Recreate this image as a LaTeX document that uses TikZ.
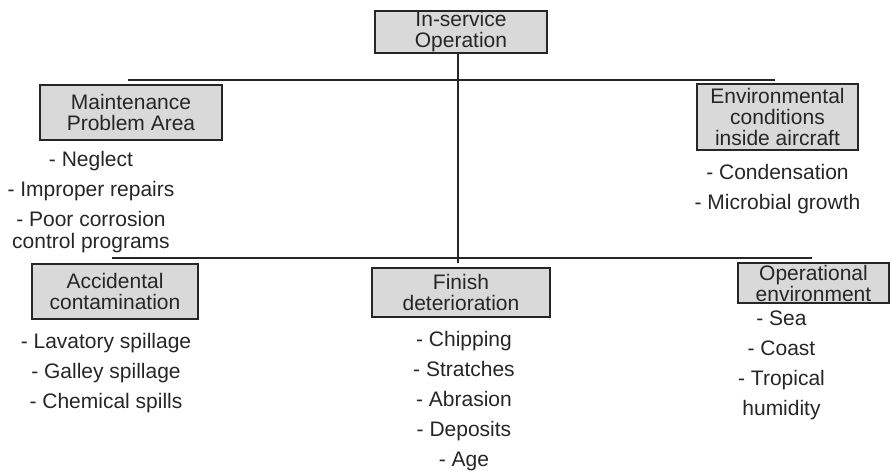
\documentclass[tikz,border=0pt]{standalone}
\usepackage{fontspec}
\setmainfont{Liberation Sans}
\usetikzlibrary{positioning}

\begin{document}
\begin{tikzpicture}[x=0.5pt, y=-0.5pt, line width=1pt,
  area/.style={draw=black!85, fill=black!15, align=center, inner sep=0pt,
    text=black!85, font=\fontsize{10.5}{10.5}\selectfont},
  items/.style={align=center, inner sep=0pt, text=black!85,
    font=\fontsize{10.5}{11}\selectfont}]
  \useasboundingbox (0,0) rectangle (891,471);

  \begin{scope}[every node/.style={area}]
    \node [minimum width=86pt, minimum height=21pt] (inservice) at (461,32) {In-service\\Operation};
    \node [minimum width=91pt, minimum height=27.5pt] (maint) at (131,112.5) {Maintenance\\Problem Area};
    \node [minimum width=80.5pt, minimum height=33pt] (envcond) at (777.5,117) {Environmental\\conditions\\inside aircraft};
    \node [minimum width=83pt, minimum height=27.5pt] (accident) at (115,291.5) {Accidental\\contamination};
    \node [minimum width=89pt, minimum height=24.5pt] (finish) at (461,292.5) {Finish\\deterioration};
    \node [minimum width=75.5pt, minimum height=20pt] (operenv) at (813.5,283) {Operational\\environment};
  \end{scope}

  \begin{scope}[every node/.style={items}]
    \node [below=4.5pt of maint, xshift=-20pt] (maintlist)
      {- Neglect\\[4pt] - Improper repairs\\[4pt] - Poor corrosion\\control programs};
    \node [below=6pt of envcond] (envlist)
      {- Condensation\\[4pt] - Microbial growth};
    \node [below=6pt of accident, xshift=-4.5pt] (accidentlist)
      {- Lavatory spillage\\[4pt] - Galley spillage\\[4pt] - Chemical spills};
    \node [below=6pt of finish, xshift=1.5pt] (finishlist)
      {- Chipping\\[4pt] - Stratches\\[4pt] - Abrasion\\[4pt] - Deposits\\[4pt] - Age};
    \node [below=3pt of operenv, xshift=-16pt] (operlist)
      {- Sea\\[4pt] - Coast\\[4pt] - Tropical\\[4pt] humidity};
  \end{scope}

  % buses
  \coordinate (upleft) at (128,80);
  \coordinate (upright) at (775,80);
  \coordinate (lowleft) at (112,258);
  \coordinate (lowright) at (812,258);
  \coordinate (trunk) at (458,263);

  \draw [black!85] (upleft) -- (upright);
  \draw [black!85] (lowleft) -- (lowright);
  \draw [black!85] (inservice.south -| trunk) -- (trunk);
\end{tikzpicture}
\end{document}
